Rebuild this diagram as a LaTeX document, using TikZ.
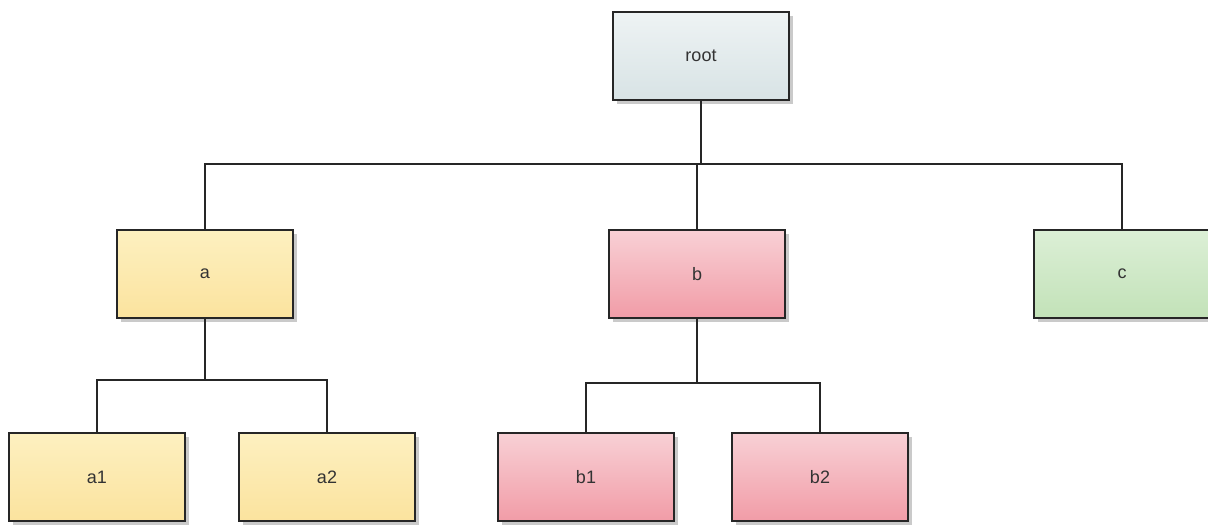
\documentclass[tikz,border=0pt]{standalone}
\usepackage{fontspec}
\setmainfont{Liberation Sans}
\usetikzlibrary{shadows}
\definecolor{rootT}{HTML}{EEF3F4}
\definecolor{rootB}{HTML}{D8E3E5}
\definecolor{yelT}{HTML}{FDF0C0}
\definecolor{yelB}{HTML}{FBE39E}
\definecolor{pinkT}{HTML}{F8D0D5}
\definecolor{pinkB}{HTML}{F19CA7}
\definecolor{grnT}{HTML}{DCEFD6}
\definecolor{grnB}{HTML}{C2E2B8}
\begin{document}
\begin{tikzpicture}[x=1pt,y=-1pt,
  box/.style={draw=black!85, line width=2.6pt, minimum width=176pt, minimum height=88pt,
    inner sep=0pt, font=\fontsize{18}{20}\selectfont, text=black!80,
    drop shadow={shadow xshift=4pt, shadow yshift=-4pt, opacity=0.35, fill=black!60}},
  greybox/.style={box, top color=rootT, bottom color=rootB},
  yellowbox/.style={box, top color=yelT, bottom color=yelB},
  pinkbox/.style={box, top color=pinkT, bottom color=pinkB},
  greenbox/.style={box, top color=grnT, bottom color=grnB},
  link/.style={draw=black!85, line width=2.6pt}
]
\useasboundingbox (0,0) rectangle (1208,526);
\clip (0,0) rectangle (1208,526);
\node[greybox]   (root) at (701,56)  {root};
\node[yellowbox] (a)    at (205,274) {a};
\node[pinkbox]   (b)    at (697,274) {b};
\node[greenbox]  (c)    at (1122,274) {c};
\node[yellowbox] (a1)   at (97,477)  {a1};
\node[yellowbox] (a2)   at (327,477) {a2};
\node[pinkbox]   (b1)   at (586,477) {b1};
\node[pinkbox]   (b2)   at (820,477) {b2};
\coordinate (r1) at (701,164);
\coordinate (ya) at (0,380);
\coordinate (yb) at (0,383);
\draw[link] (root.south) -- (r1);
\draw[link] (a.north) |- (r1) -| (c.north);
\draw[link] (b.north) -- (b.north |- r1);
\draw[link] (a.south) -- (a.south |- ya);
\draw[link] (a1.north) |- (a.south |- ya) -| (a2.north);
\draw[link] (b.south) -- (b.south |- yb);
\draw[link] (b1.north) |- (b.south |- yb) -| (b2.north);
\end{tikzpicture}
\end{document}
